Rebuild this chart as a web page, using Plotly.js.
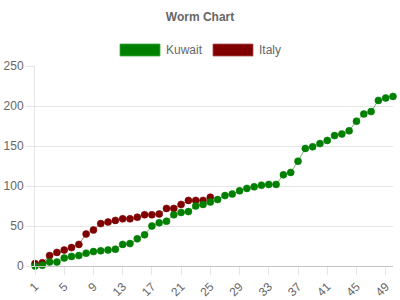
<!DOCTYPE html>
<html>
<head>
<meta charset="utf-8">
<script src="https://cdn.plot.ly/plotly-3.0.1.min.js"></script>
<style>html,body{margin:0;padding:0;background:#fff;}#chart{width:400px;height:300px;}</style>
</head>
<body>
<div id="chart"></div>
<script>
var kuwaitRounds = [1,2,3,4,5,6,7,8,9,10,11,12,13,14,15,16,17,18,19,20,21,22,23,24,25,26,27,28,29,30,31,32,33,34,35,36,37,38,39,40,41,42,43,44,45,46,47,48,49,50];
var kuwaitScores = [0,1,5,5,10,12,13,16,18,19,20,21,27,28,34,39,50,54,56,64,67,68,75,77,80,83,88,90,94,97,99,101,102,102,114,117,131,147,149,153,157,163,165,169,181,190,193,207,210,212];
var italyRounds = [1,2,3,4,5,6,7,8,9,10,11,12,13,14,15,16,17,18,19,20,21,22,23,24,25];
var italyScores = [3,4,13,17,20,23,27,40,45,53,55,57,59,59,61,64,64,65,72,72,77,82,82,82,86];
var xTickVals = [1,5,9,13,17,21,25,29,33,37,41,45,49];
var xTickText = ['1','5','9','13','17','21','25','29','33','37','41','45','49'];
var seriesNames = ['Kuwait','Italy'];
var seriesColors = ['#008000','#800000'];
var seriesLineColors = ['rgba(0,128,0,0.55)','rgba(128,0,0,0.55)'];

var font = {family:'"Liberation Sans", Arial, Helvetica, sans-serif', size:12, color:'#666'};

function trace(x, y, i) {
  return {
    x: x, y: y, name: seriesNames[i], type: 'scatter', mode: 'lines+markers',
    line: {color: seriesLineColors[i], width: 1},
    marker: {color: seriesColors[i], size: 7, line: {color: seriesLineColors[i], width: 1}},
    cliponaxis: false, hoverinfo: 'x+y+name'
  };
}

var data = [trace(italyRounds, italyScores, 1), trace(kuwaitRounds, kuwaitScores, 0)];

var W = 358, H = 200, L = 35, T = 66;
function px(x){ return (x - L) / W; }
function py(y){ return (T + H - y) / H; }

var layout = {
  width: 400, height: 300,
  margin: {l: 35, r: 7, t: 66, b: 34, pad: 0},
  paper_bgcolor: '#fff', plot_bgcolor: '#fff',
  font: font,
  showlegend: false,
  title: {text: 'Worm Chart', x: 0.5, xref: 'container', xanchor: 'center',
          y: 1 - 17/300, yref: 'container', yanchor: 'middle',
          font: {family: font.family, size: 12, color: '#666', weight: 'bold'}},
  xaxis: {
    type: 'linear', range: [1, 50], tickmode: 'array', tickvals: xTickVals, ticktext: xTickText,
    tickangle: -45, showgrid: false, zeroline: false,
    showline: true, linecolor: '#c4c4c4', linewidth: 1,
    ticks: 'outside', ticklen: 8, tickcolor: '#e5e5e5', tickwidth: 1,
    tickfont: font, fixedrange: true
  },
  yaxis: {
    range: [0, 250], dtick: 50, tick0: 0, showgrid: true, gridcolor: '#e5e5e5', gridwidth: 1,
    zeroline: false, showline: true, linecolor: '#e5e5e5', linewidth: 1,
    ticks: 'outside', ticklen: 8, tickcolor: '#e5e5e5', tickwidth: 1,
    tickfont: font, fixedrange: true
  },
  shapes: [
    {type: 'rect', xref: 'paper', yref: 'paper', x0: px(120), x1: px(160), y0: py(56), y1: py(44),
     fillcolor: seriesColors[0], line: {color: 'rgba(60,170,60,0.8)', width: 1}},
    {type: 'rect', xref: 'paper', yref: 'paper', x0: px(213), x1: px(253), y0: py(56), y1: py(44),
     fillcolor: seriesColors[1], line: {color: 'rgba(170,80,80,0.8)', width: 1}}
  ],
  annotations: [
    {text: seriesNames[0], xref: 'paper', yref: 'paper', x: px(164), y: py(50), xanchor: 'left', yanchor: 'middle', showarrow: false, font: font},
    {text: seriesNames[1], xref: 'paper', yref: 'paper', x: px(257), y: py(50), xanchor: 'left', yanchor: 'middle', showarrow: false, font: font}
  ]
};

Plotly.newPlot('chart', data, layout, {displayModeBar: false, staticPlot: false});
</script>
</body>
</html>
